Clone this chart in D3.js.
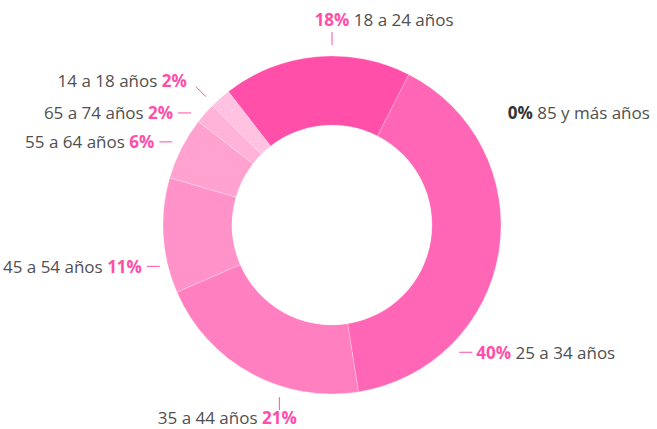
<!DOCTYPE html>
<html>
<head>
<meta charset="utf-8">
<script src="https://cdn.jsdelivr.net/npm/d3@7"></script>
<style>
  body { margin: 0; background: #fff; }
  svg { display: block; font-family: "Open Sans", sans-serif; }
</style>
</head>
<body>
<div class="chart"></div>
<script>
// age groups, clockwise from the top-right edge of the 25-34 slice
const categories = ["25 a 34 años", "35 a 44 años", "45 a 54 años", "55 a 64 años",
  "65 a 74 años", "14 a 18 años", "18 a 24 años", "85 y más años"];
const values = [40, 21, 11, 6, 2, 2, 18, 0];
const colors = ["#ff66b5", "#ff7fc0", "#ff92c9", "#ffa2d0", "#ffb3d8", "#ffc2e0", "#ff4fa9", "#ff4fa9"];

// label placement: angle (deg, clockwise from top), connector direction
const labelLayout = [
  { a: 135, dir: "right" },
  { a: 197, dir: "down" },
  { a: 256.5, dir: "left", r: 177 },
  { a: 297.5, dir: "left" },
  { a: 308.5, dir: "left" },
  { a: 315.5, dir: "diag" },
  { a: 0, dir: "up" },
  { a: 59, dir: "none", r: 205 }
];

function draw() {
  const w = 657, h = 429,
    cx = 332, cy = 225,
    outer = 169, inner = 100,
    rad = Math.PI / 180,
    textColor = "#505050",
    pctColor = "#ff4da8";

  const svg = d3.select(".chart")
    .append("svg")
    .attr("width", w)
    .attr("height", h);

  const g = svg.append("g")
    .attr("transform", `translate(${cx},${cy})`);

  const pie = d3.pie()
    .sort(null)
    .value(d => d)
    .startAngle(27 * rad)
    .endAngle(27 * rad + 2 * Math.PI);

  const arc = d3.arc()
    .innerRadius(inner)
    .outerRadius(outer);

  const arcs = pie(values);

  g.selectAll("path")
    .data(arcs.filter(d => d.value > 0))
    .enter()
    .append("path")
    .attr("d", arc)
    .attr("fill", d => colors[d.index])
    .attr("stroke", "#fff")
    .attr("stroke-opacity", 0.5)
    .attr("stroke-width", 0.5);

  const len = 13;

  arcs.forEach(function (d, i) {
    const lay = labelLayout[i];
    const r = lay.r || 180;
    const x0 = r * Math.sin(lay.a * rad),
      y0 = -r * Math.cos(lay.a * rad);
    let x1 = x0, y1 = y0;
    if (lay.dir === "right") x1 = x0 + len;
    if (lay.dir === "left") x1 = x0 - len;
    if (lay.dir === "up") y1 = y0 - len;
    if (lay.dir === "down") y1 = y0 + len;
    if (lay.dir === "diag") { x1 = x0 - 10; y1 = y0 - 10; }

    if (lay.dir !== "none") {
      g.append("line")
        .attr("x1", x0).attr("y1", y0)
        .attr("x2", x1).attr("y2", y1)
        .attr("stroke", pctColor)
        .attr("stroke-width", 1);
    }

    const zero = d.value === 0;
    const pctText = `${d.value}%`;
    const pctFill = zero ? "#333" : pctColor;
    const t = g.append("text")
      .attr("font-size", 17)
      .attr("fill", textColor);

    const pctFirst = lay.dir === "right" || lay.dir === "up" || lay.dir === "none";
    let pctSpan;
    if (pctFirst) {
      pctSpan = t.append("tspan").attr("font-weight", "bold").attr("fill", pctFill).text(pctText);
      t.append("tspan").text(" " + categories[i]);
    } else {
      t.append("tspan").text(categories[i] + " ");
      pctSpan = t.append("tspan").attr("font-weight", "bold").attr("fill", pctFill).text(pctText);
    }
    const pw = pctSpan.node().getComputedTextLength();

    if (lay.dir === "right") {
      t.attr("x", x1 + 4).attr("y", y1 + 7);
    } else if (lay.dir === "left") {
      t.attr("text-anchor", "end").attr("x", x1 - 5).attr("y", y1 + 6.5);
    } else if (lay.dir === "up") {
      t.attr("x", x1 - pw / 2).attr("y", y1 - 6);
    } else if (lay.dir === "down") {
      t.attr("text-anchor", "end").attr("x", x1 + pw / 2).attr("y", y1 + 14);
    } else if (lay.dir === "diag") {
      t.attr("text-anchor", "end").attr("x", x1 - 9).attr("y", y1);
    } else {
      t.attr("x", x0).attr("y", y0);
    }
  });
}

draw();
</script>
</body>
</html>
